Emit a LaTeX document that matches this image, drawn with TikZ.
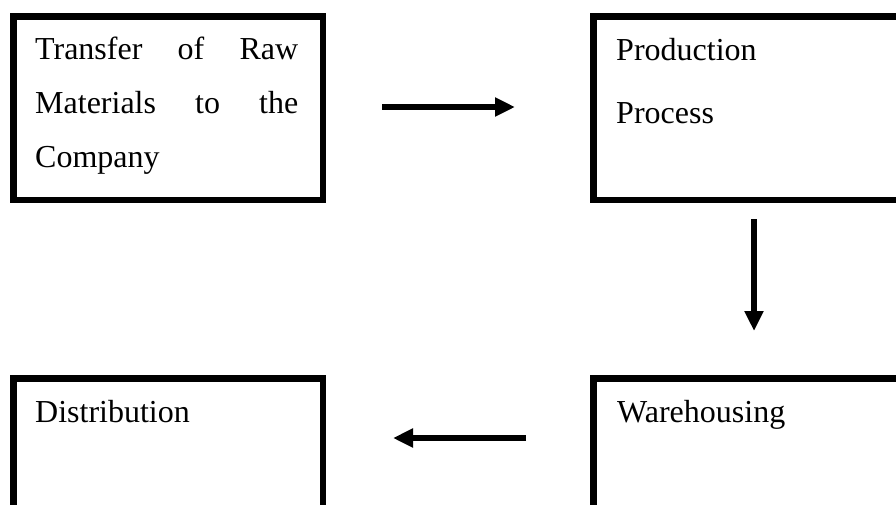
\documentclass[tikz,border=0pt]{standalone}
\usepackage{fontspec}
\setmainfont{Liberation Serif}
\usetikzlibrary{arrows.meta}

\begin{document}
\begin{tikzpicture}[x=1pt, y=-1pt,
  box/.style = {shape=rectangle, draw, line width=6.5pt, minimum width=309.5pt, minimum height=183.5pt},
  label/.style = {anchor=base west, inner sep=0pt, text width=#1, align=left,
    font=\fontsize{32}{54}\selectfont},
  flow/.style = {line width=6pt, -{Triangle[length=20pt, width=18pt]}}]
  \useasboundingbox (0,0) rectangle (896,504);
  \node[box] (raw) at (168,108) {};
  \node[box] (prod) at (748,108) {};
  \node[box] (ware) at (748,470) {};
  \node[box] (dist) at (168,470) {};
  \node[label=263pt] (rawtext) at (35,59)
    {Transfer\hfill of\hfill Raw\\ Materials\hfill to\hfill the\\ Company};
  \node[label=250pt] (prodtext) at (616,60) {Production\\[9pt] Process};
  \node[label=250pt] (waretext) at (617,422) {Warehousing};
  \node[label=250pt] (disttext) at (35,422) {Distribution};
  \draw[flow, shorten <=56pt, shorten >=75pt] ([yshift=1pt]raw.east) -- ([yshift=1pt]prod.west);
  \draw[flow, shorten <=16pt, shorten >=44pt] ([xshift=6pt]prod.south) -- ([xshift=6pt]ware.north);
  \draw[flow, shorten <=64pt, shorten >=67pt] ([yshift=32pt]ware.west) -- ([yshift=32pt]dist.east);
\end{tikzpicture}
\end{document}
